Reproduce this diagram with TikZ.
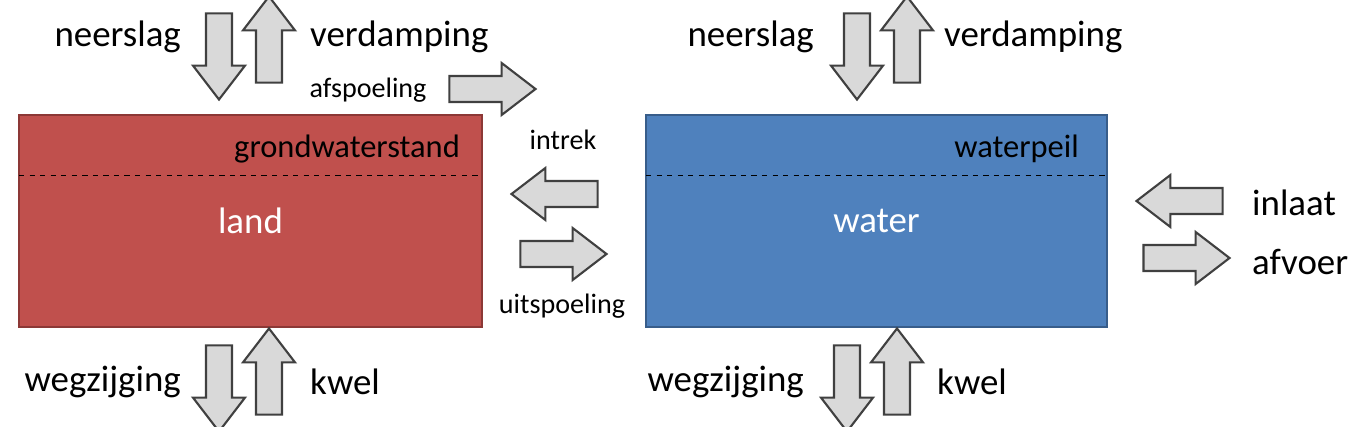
\documentclass[tikz,border=0pt]{standalone}
\usepackage{fontspec}
\setmainfont{Carlito}
\usetikzlibrary{shapes.arrows}
\definecolor{landred}{HTML}{C0504D}
\definecolor{landedge}{HTML}{8C3836}
\definecolor{waterblue}{HTML}{4F81BD}
\definecolor{wateredge}{HTML}{385D8A}
\definecolor{flowgray}{HTML}{D9D9D9}
\tikzset{
  flow/.style={single arrow, draw=black!75, fill=flowgray, line width=1.2pt,
    inner sep=6.8pt, single arrow head extend=7.4pt,
    single arrow tip angle=75, minimum height=49pt},
  flow down/.style={flow, shape border rotate=270},
  flow up/.style={flow, shape border rotate=90},
  flow left/.style={flow, shape border rotate=180},
  big/.style={font=\fontsize{21}{24}\selectfont},
  small/.style={font=\fontsize{16}{19}\selectfont},
}
\begin{document}
\begin{tikzpicture}[x=0.02cm, y=-0.02cm]
  \useasboundingbox (0,0) rectangle (1371,426);

  % the two basins
  \node[draw=landedge, fill=landred, line width=1.5pt, minimum width=463*0.02cm,
    minimum height=212*0.02cm, inner sep=0] (land) at (250.5,221) {};
  \node[draw=wateredge, fill=waterblue, line width=1.5pt, minimum width=461*0.02cm,
    minimum height=212*0.02cm, inner sep=0] (water) at (876.5,221) {};
  \draw[dashed] (19,175) -- (482,175);
  \draw[dashed] (646,175) -- (1107,175);
  \node[big, text=white] at (land.center) {land};
  \node[big, text=white] at (water.center) {water};
  \node[font=\fontsize{18.5}{21}\selectfont, anchor=east] (gws) at (466,149) {grondwaterstand};
  \node[font=\fontsize{18.5}{21}\selectfont, anchor=east] (wp) at (1085,149) {waterpeil};

  % land fluxes
  \node[flow down] (lneer) at (219,48) {};
  \node[flow up] (lverd) at (269,48) {};
  \node[big, anchor=east] at (187,37) {neerslag};
  \node[big, anchor=west] at (304,37) {verdamping};
  \node[flow] (afsp) at (484,89) {};
  \node[small] at (368,90) {afspoeling};
  \node[flow down] (lweg) at (219,380) {};
  \node[flow up] (lkwel) at (269,380) {};
  \node[big, anchor=east] at (187,382) {wegzijging};
  \node[big, anchor=west] at (304,382) {kwel};

  % exchange land - water
  \node[flow left] (intrek) at (563,194) {};
  \node[small] at (563,140) {intrek};
  \node[flow] (uitsp) at (555,254) {};
  \node[small] at (562,306) {uitspoeling};

  % water fluxes
  \node[flow down] (wneer) at (857,48) {};
  \node[flow up] (wverd) at (907,48) {};
  \node[big, anchor=east] at (820,37) {neerslag};
  \node[big, anchor=west] at (938,37) {verdamping};
  \node[flow down] (wweg) at (847,380) {};
  \node[flow up] (wkwel) at (897,380) {};
  \node[big, anchor=east] at (810,382) {wegzijging};
  \node[big, anchor=west] at (931,382) {kwel};
  \node[flow left] (inlaat) at (1188,201) {};
  \node[big, anchor=west] at (1246,203) {inlaat};
  \node[flow] (afvoer) at (1178,258) {};
  \node[big, anchor=west] at (1246,262) {afvoer};
\end{tikzpicture}
\end{document}
